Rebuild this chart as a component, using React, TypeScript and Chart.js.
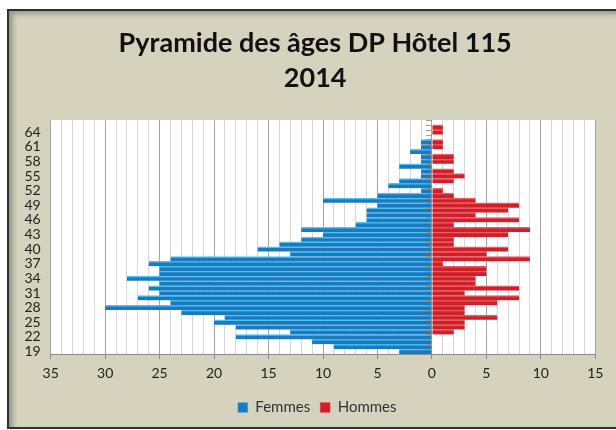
import React, { useEffect, useRef } from 'react';
import { Chart, registerables } from 'chart.js';

Chart.register(...registerables);

// Ages 19 to 66 (bottom to top)
const ages = [
  '19', '20', '21', '22', '23', '24', '25', '26', '27', '28',
  '29', '30', '31', '32', '33', '34', '35', '36', '37', '38',
  '39', '40', '41', '42', '43', '44', '45', '46', '47', '48',
  '49', '50', '51', '52', '53', '54', '55', '56', '57', '58',
  '59', '60', '61', '62', '63', '64', '65', '66',
];

// Number of women per age (drawn to the left)
const femmes = [
  3, 9, 11, 18, 13, 18, 20, 19, 23, 30,
  24, 27, 25, 26, 25, 28, 25, 25, 26, 24,
  13, 16, 14, 12, 10, 12, 7, 6, 6, 6,
  5, 10, 5, 1, 4, 3, 1, 1, 3, 1,
  1, 2, 1, 1, 0, 0, 0, 0,
];

// Number of men per age (drawn to the right)
const hommes = [
  0, 0, 0, 0, 2, 3, 3, 6, 3, 3,
  6, 8, 3, 8, 4, 4, 5, 5, 1, 9,
  5, 7, 2, 2, 7, 9, 2, 8, 4, 7,
  8, 4, 2, 1, 0, 2, 3, 2, 0, 2,
  2, 0, 1, 1, 0, 1, 1, 0,
];

// Age labels shown on the vertical axis
const shownAgeLabels = ['19', '22', '25', '28', '31', '34', '37', '40', '43', '46', '49', '52', '55', '58', '61', '64'];

const titleLines = ['Pyramide des âges DP Hôtel 115', '2014'];

const X_MIN = -35;
const X_MAX = 15;

const plotBackground = {
  id: 'plotBackground',
  beforeDraw(chart: any) {
    const { ctx, chartArea } = chart;
    ctx.save();
    ctx.fillStyle = '#ffffff';
    ctx.fillRect(chartArea.left, chartArea.top, chartArea.right - chartArea.left, chartArea.bottom - chartArea.top);
    ctx.restore();
  },
};

const boxShift = {
  id: 'boxShift',
  afterLayout(chart: any) {
    const lg = chart.legend;
    if (lg) {
      lg.left += 15;
      lg.right += 15;
    }
    const tb = chart.titleBlock;
    if (tb) {
      tb.left += 13;
      tb.right += 13;
    }
  },
};

const zeroAxisTicks = {
  id: 'zeroAxisTicks',
  afterDatasetsDraw(chart: any) {
    const { ctx, scales } = chart;
    const xs = scales.x;
    const ys = scales.y;
    const x0 = xs.getPixelForValue(0);
    const step = Math.abs(ys.getPixelForValue(1) - ys.getPixelForValue(0));
    ctx.save();
    ctx.strokeStyle = 'rgba(170,140,110,0.85)';
    ctx.lineWidth = 1;
    for (let i = 0; i <= ages.length; i++) {
      const y = Math.round(ys.getPixelForValue(i) + step / 2) + 0.5;
      ctx.beginPath();
      ctx.moveTo(x0 - 6, y);
      ctx.lineTo(x0, y);
      ctx.stroke();
    }
    ctx.restore();
  },
};

export default function App() {
  const canvasRef = useRef<HTMLCanvasElement>(null);

  useEffect(() => {
    const canvas = canvasRef.current;
    if (!canvas) return;
    const chart = new Chart(canvas, {
      type: 'bar',
      data: {
        labels: ages,
        datasets: [
          {
            label: 'Femmes',
            data: femmes.map((v) => -v),
            backgroundColor: '#1b79c0',
            borderColor: '#4cc3f1',
            borderWidth: { top: 1.5, right: 0, bottom: 0, left: 0 },
            borderSkipped: false,
            barPercentage: 1,
            categoryPercentage: 1,
          },
          {
            label: 'Hommes',
            data: hommes,
            backgroundColor: '#cf1f28',
            borderColor: '#ec5a60',
            borderWidth: { top: 1.5, right: 0, bottom: 0, left: 0 },
            borderSkipped: false,
            barPercentage: 1,
            categoryPercentage: 1,
          },
        ],
      },
      options: {
        indexAxis: 'y',
        responsive: false,
        maintainAspectRatio: false,
        animation: false,
        layout: { padding: { left: 0, right: 20.7, top: 0, bottom: 2 } },
        scales: {
          x: {
            type: 'linear',
            min: X_MIN,
            max: X_MAX,
            stacked: true,
            afterFit(scale: any) {
              scale.height = 36;
            },
            ticks: {
              stepSize: 1,
              autoSkip: false,
              maxRotation: 0,
              padding: 6,
              color: '#222222',
              font: { family: 'Lato', size: 14 },
              callback: (v: any) => (Number(v) % 5 === 0 ? String(Math.abs(Number(v))) : ''),
            },
            grid: {
              color: (c: any) => (c.tick && c.tick.value % 5 === 0 ? '#a3a3a3' : '#d6d6d6'),
              tickColor: (c: any) => (c.tick && c.tick.value % 5 === 0 ? '#8a8a8a' : 'rgba(0,0,0,0)'),
              tickLength: 5,
              lineWidth: 1,
            },
            border: { color: '#8a8a8a' },
          },
          y: {
            type: 'category',
            stacked: true,
            reverse: true,
            afterFit(scale: any) {
              scale.width = 41.7;
            },
            ticks: {
              autoSkip: false,
              padding: 10,
              color: '#222222',
              font: { family: "'Liberation Sans Narrow', 'Lato'", size: 14 },
              callback: (_v: any, i: number) => (shownAgeLabels.includes(ages[i]) ? ages[i] : ''),
            },
            grid: { display: false, drawTicks: false },
            border: { display: false },
          },
        },
        plugins: {
          title: {
            display: true,
            text: titleLines,
            color: '#111111',
            font: { family: 'Lato', size: 27, weight: 'bold', lineHeight: 1.311 },
            padding: { top: 14.5, bottom: 23.7 },
          },
          legend: {
            display: true,
            position: 'bottom',
            labels: {
              boxWidth: 10,
              boxHeight: 10,
              padding: 10,
              color: '#333333',
              font: { family: 'Lato', size: 15 },
            },
          },
          tooltip: { enabled: false },
        },
      },
      plugins: [plotBackground, zeroAxisTicks, boxShift],
    });
    return () => chart.destroy();
  }, []);

  return (
    <div
      style={{
        position: 'absolute',
        left: 7,
        top: 9,
        width: 607,
        height: 416,
        background: '#d5d2bd',
        borderTop: '2px solid #2f2f2f',
        borderLeft: '2px solid #2f2f2f',
        borderBottom: '2px solid #2f2f2f',
        boxShadow: 'inset 4px 3px 5px rgba(0,0,0,0.28)',
      }}
    >
      <canvas ref={canvasRef} width={607} height={416} style={{ display: 'block', width: 607, height: 416 }} />
    </div>
  );
}
